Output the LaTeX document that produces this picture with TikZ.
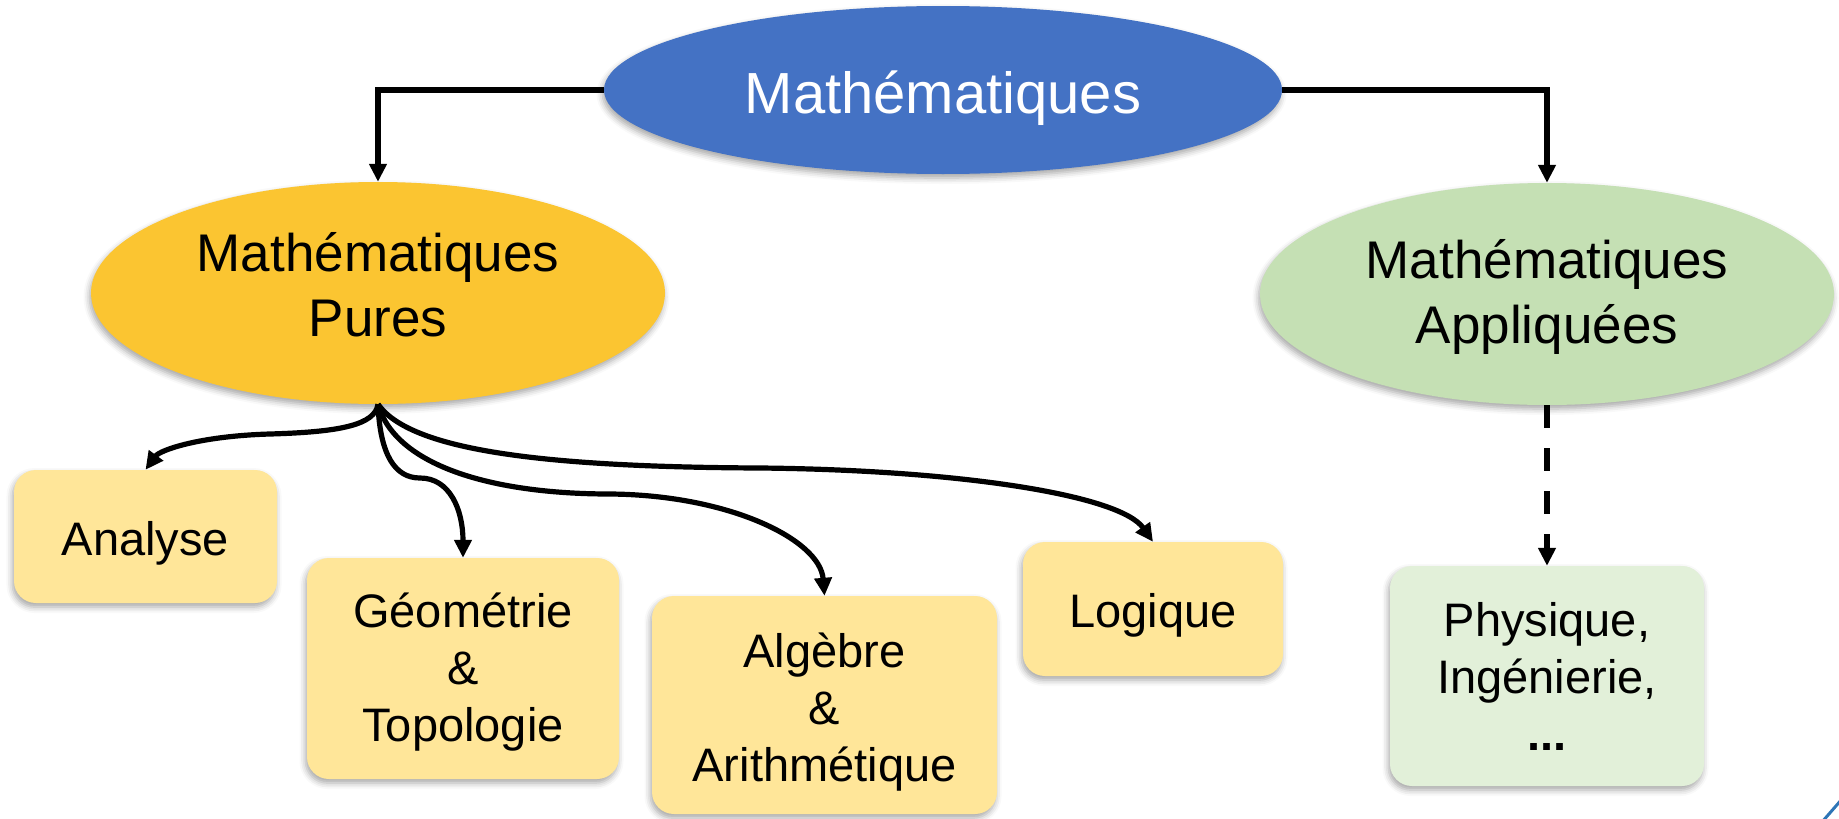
\documentclass[tikz,border=0pt]{standalone}
\usepackage{fontspec}
\setmainfont{Liberation Sans}
\usetikzlibrary{shapes.geometric,arrows.meta,shadows.blur}
\definecolor{topblue}{HTML}{4472C4}
\definecolor{puregold}{HTML}{FBC531}
\definecolor{applgreen}{HTML}{C5E0B4}
\definecolor{boxyellow}{HTML}{FFE699}
\definecolor{boxgreen}{HTML}{E2F0D9}
\definecolor{artblue}{HTML}{2E75B6}
\begin{document}
\begin{tikzpicture}[x=1pt,y=-1pt,
  shade/.style={blur shadow={shadow xshift=-1.5pt,shadow yshift=-4pt,shadow blur radius=6pt,shadow opacity=35}},
  ell/.style={ellipse, inner sep=0pt, shade},
  topnode/.style={ell, fill=topblue, minimum width=678pt, minimum height=168pt},
  midnode/.style={ell, minimum width=574pt, minimum height=222pt},
  leaf/.style={rectangle, rounded corners=22pt, inner sep=0pt, shade},
  toptxt/.style={font=\fontsize{58}{70}\selectfont, text=white, align=center, inner sep=0pt},
  midtxt/.style={font=\fontsize{53}{65}\selectfont, align=center, inner sep=0pt},
  leaftxt/.style={font=\fontsize{47}{57}\selectfont, align=center, inner sep=0pt},
  conn/.style={line width=5.2pt, -{Triangle[length=18pt,width=17pt]}},
]
\useasboundingbox (0,0) rectangle (1839,819);

\node[topnode, label={[toptxt, yshift=-8pt]center:Mathématiques}] (math) at (943,90) {};
\node[midnode, fill=puregold, label={[midtxt, yshift=8pt]center:{Mathématiques\\Pures}}] (pures) at (378,293) {};
\node[midnode, fill=applgreen, label={[midtxt, yshift=-2.5pt]center:{Mathématiques\\Appliquées}}] (appl) at (1547,294) {};

\node[leaf, fill=boxyellow, minimum width=263pt, minimum height=133pt,
  label={[leaftxt, yshift=-6.5pt]center:Analyse}] (ana) at (145.5,536.5) {};
\node[leaf, fill=boxyellow, minimum width=312pt, minimum height=221pt,
  label={[leaftxt, yshift=-4pt]center:{Géométrie\\\&\\Topologie}}] (geo) at (463,668.5) {};
\node[leaf, fill=boxyellow, minimum width=345pt, minimum height=218pt,
  label={[leaftxt, yshift=-7.5pt]center:{Algèbre\\\&\\Arithmétique}}] (alg) at (824.5,705) {};
\node[leaf, fill=boxyellow, minimum width=260pt, minimum height=134pt,
  label={[leaftxt, yshift=-6pt]center:Logique}] (logi) at (1153,609) {};
\node[leaf, fill=boxgreen, minimum width=314pt, minimum height=220pt,
  label={[leaftxt]center:{Physique,\\Ingénierie,\\\textbf{...}}}] (phys) at (1547,676) {};

\draw[conn] (math.west) -| (pures.north);
\draw[conn] (math.east) -| (appl.north);
\draw[conn, dash pattern=on 23pt off 20pt] (appl.south) -- (phys.north);

\draw[conn] (pures.south) .. controls (375,425) and (340,432) .. (270,434)
  .. controls (200,436) and (160,450) .. (ana.north);
\draw[conn] (pures.south) .. controls (380,455) and (395,478) .. (420,478)
  .. controls (450,478) and (463,510) .. (geo.north);
\draw[conn] (pures.south) .. controls (395,465) and (490,494) .. (610,494)
  .. controls (730,495) and (820,540) .. (alg.north);
\draw[conn] (pures.south) .. controls (410,450) and (540,467) .. (760,468)
  .. controls (960,470) and (1120,495) .. (logi.north);

\draw[artblue, line width=3pt] (1822,822) -- (1842,799);
\end{tikzpicture}
\end{document}
